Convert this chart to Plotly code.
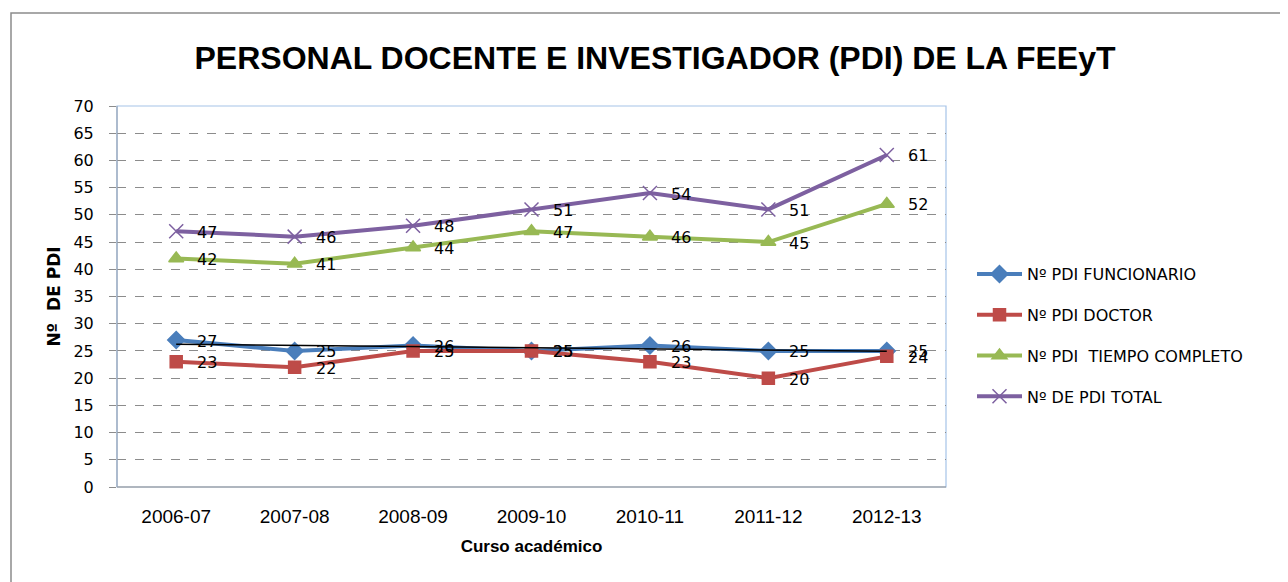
import numpy as np
import plotly.graph_objects as go

cursos = ["2006-07", "2007-08", "2008-09", "2009-10", "2010-11", "2011-12", "2012-13"]
funcionario = [27, 25, 26, 25, 26, 25, 25]
doctor = [23, 22, 25, 25, 23, 20, 24]
tiempo_completo = [42, 41, 44, 47, 46, 45, 52]
total = [47, 46, 48, 51, 54, 51, 61]

series = [
    ("Nº PDI FUNCIONARIO", funcionario, "#4A7EBB", "diamond", 13),
    ("Nº PDI DOCTOR", doctor, "#BE4B48", "square", 12),
    ("Nº PDI  TIEMPO COMPLETO", tiempo_completo, "#98B954", "triangle-up", 13),
    ("Nº DE PDI TOTAL", total, "#7D60A0", "x-thin-open", 14),
]

W, H = 1288, 582
O = 8  # page body margin
# screen positions of the plot area
SL, SR, ST, SB = 117, 946, 106, 487
L, R, T, B = SL - O, SR - O, ST - O, SB - O

px = lambda x: (x - O - L) / (R - L)
py = lambda y: (B - (y - O)) / (B - T)

fig = go.Figure()
xi = list(range(len(cursos)))
annotations = []
for i, (name, vals, col, sym, ms) in enumerate(series):
    fig.add_trace(go.Scatter(
        x=xi, y=vals, name=name, mode="lines+markers",
        line=dict(color=col, width=4),
        marker=dict(symbol=sym, size=ms, color=col, line=dict(color=col, width=1.5)),
        legendgroup=f"g{i}", cliponaxis=False,
    ))
    for x, v in zip(xi, vals):
        annotations.append(dict(x=x, y=v, xref="x", yref="y", text=str(v),
                                showarrow=False, xanchor="left", yanchor="middle",
                                xshift=19, yshift=-1,
                                font=dict(family="DejaVu Sans", size=16, color="#000000")))

# linear trendline of the funcionario series
coef = np.polyfit(xi, funcionario, 1)
fig.add_trace(go.Scatter(
    x=[xi[0], xi[-1]], y=list(np.polyval(coef, [xi[0], xi[-1]])),
    mode="lines", line=dict(color="#000000", width=1.5),
    showlegend=False, hoverinfo="skip",
))

fig.update_layout(
    width=W, height=H,
    margin=dict(l=L, r=W - R, t=T, b=H - B),
    paper_bgcolor="white", plot_bgcolor="white",
    title=dict(text="<b>PERSONAL DOCENTE E INVESTIGADOR (PDI) DE LA FEEyT</b>",
               x=(655 - O) / W, xanchor="center", y=1 - (58 - O) / H, yanchor="middle",
               font=dict(family="Liberation Sans Narrow, Liberation Sans", size=32, color="#000000")),
    showlegend=True,
    legend=dict(x=px(972), xanchor="left", y=py(257), yanchor="top",
                font=dict(family="DejaVu Sans", size=16, color="#000000"),
                tracegroupgap=17, traceorder="grouped", itemwidth=45,
                bgcolor="rgba(0,0,0,0)"),
    annotations=annotations,
    xaxis=dict(range=[-0.5, 6.5], tickmode="array", tickvals=xi, ticktext=cursos,
               showgrid=False, zeroline=False, showline=False,
               ticks="outside", ticklen=12, tickcolor="rgba(0,0,0,0)",
               tickfont=dict(family="Liberation Sans Narrow, Liberation Sans", size=19, color="#000000"),
               title=dict(text="<b>Curso académico</b>", standoff=14,
                          font=dict(family="Liberation Sans Narrow, Liberation Sans", size=17, color="#000000"))),
    yaxis=dict(range=[0, 70], dtick=5, tick0=0, showgrid=True, gridcolor="#8C8C8C",
               griddash="dash", gridwidth=1, zeroline=False, showline=False,
               ticks="outside", ticklen=7, tickcolor="#8C8C8C", ticklabelstandoff=12,
               tickfont=dict(family="DejaVu Sans", size=16, color="#000000"),
               title=dict(text="<b>Nº  DE PDI</b>", standoff=8,
                          font=dict(family="DejaVu Sans", size=17, color="#000000"))),
    shapes=[
        dict(type="rect", xref="paper", yref="paper", x0=0, x1=1, y0=0, y1=1,
             line=dict(color="#A6C3E8", width=1.2), layer="below"),
        dict(type="line", xref="paper", yref="paper", x0=0, x1=1, y0=0, y1=0,
             line=dict(color="#8C8C8C", width=1.2)),
        dict(type="line", xref="paper", yref="paper", x0=0, x1=0, y0=0, y1=1,
             line=dict(color="#9AA6B8", width=1.2)),
        dict(type="rect", xref="paper", yref="paper", x0=px(11), x1=px(W + 10),
             y0=py(H + 10), y1=py(13), line=dict(color="#8C8C8C", width=1.5)),
    ],
)

fig.write_html("out.html")
